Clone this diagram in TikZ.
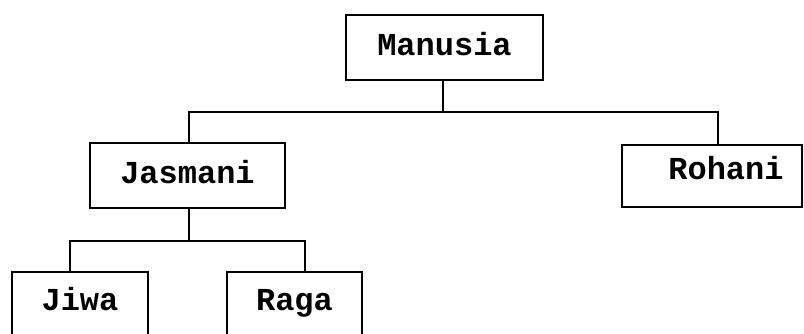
\documentclass[tikz,border=0pt]{standalone}
\usepackage{fontspec}
\setmonofont{Liberation Mono}
\usetikzlibrary{calc}
\begin{document}
\begin{tikzpicture}[x=1pt,y=-1pt,
  line width=2.4pt,
  box/.style={draw, line width=2.4pt, inner xsep=0pt, inner ysep=0pt,
    font=\ttfamily\bfseries\fontsize{32}{32}\selectfont},
  conn/.style={line width=2.4pt}]
\useasboundingbox (0,0) rectangle (804,333);
\node[box, minimum width=197pt, text height=40pt, text depth=25pt] (manusia) at (444.5,47.5) {Manusia};
\node[box, minimum width=195pt, text height=40pt, text depth=25pt] (jasmani) at (187.5,175.5) {Jasmani};
\node[box, minimum width=180pt, text height=34pt, text depth=28pt] (rohani) at (712,176) {\hspace*{28pt}Rohani};
\node[box, minimum width=136pt, text height=38pt, text depth=32pt] (jiwa) at (80,307) {Jiwa};
\node[box, minimum width=135pt, text height=38pt, text depth=32pt] (raga) at (294.5,307) {Raga};
\coordinate (bus1) at ($(manusia.south)+(-1.5,31)$);
\coordinate (bus2) at ($(jasmani.south)+(1.5,32)$);
\draw[conn] ([xshift=-1.5pt]manusia.south) -- (bus1);
\draw[conn] ([xshift=1.5pt]jasmani.north) |- (bus1) -| ([xshift=6pt]rohani.north);
\draw[conn] (jasmani.south -| bus2) -- (bus2);
\draw[conn] ([xshift=-10pt]jiwa.north) |- (bus2) -| ([xshift=10.5pt]raga.north);
\end{tikzpicture}
\end{document}
